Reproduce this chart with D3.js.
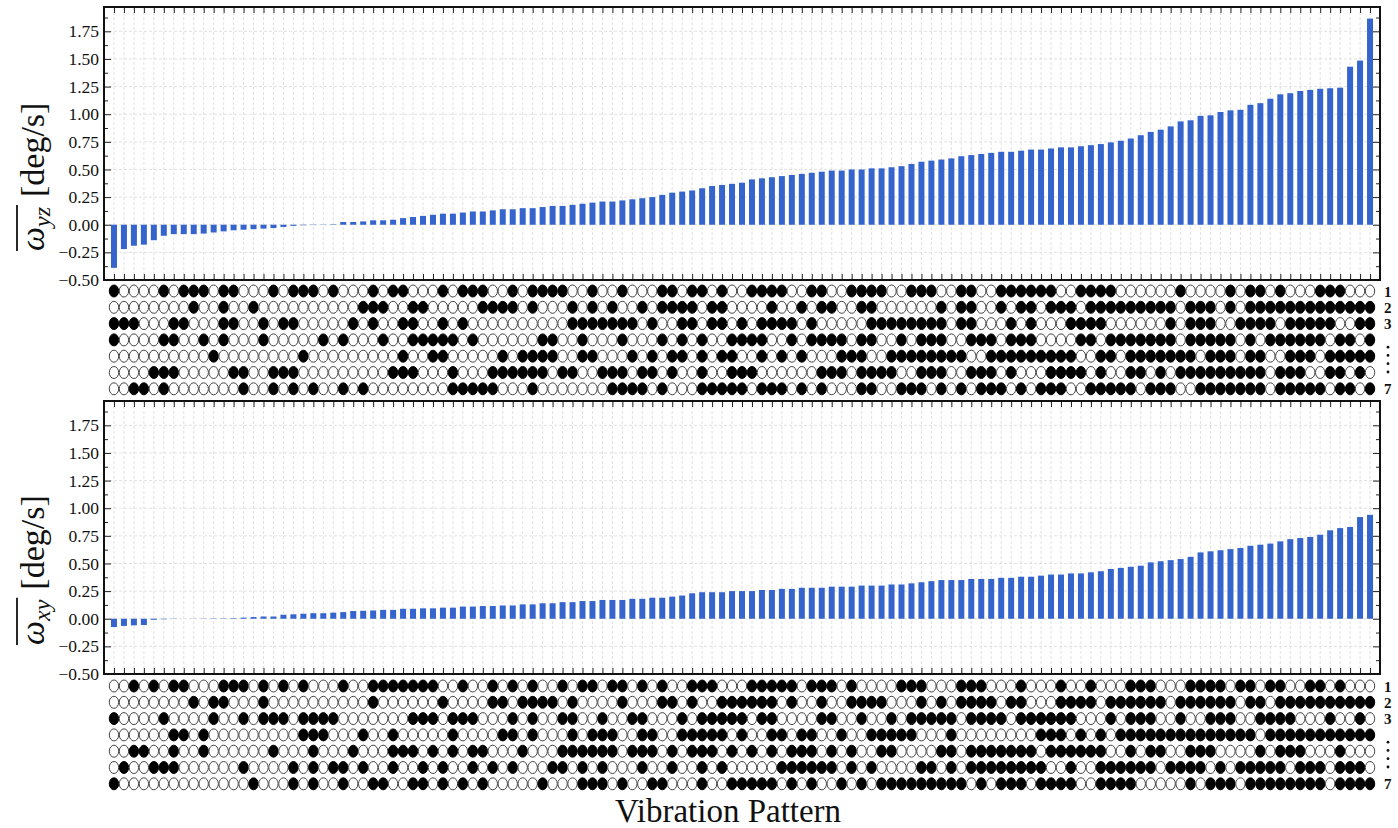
<!DOCTYPE html>
<html>
<head>
<meta charset="utf-8">
<script src="https://cdnjs.cloudflare.com/ajax/libs/d3/7.8.5/d3.min.js"></script>
<style>
body { margin: 0; background: #fff; }
svg text { font-family: "Liberation Serif", "DejaVu Serif", serif; fill: #111; }
</style>
</head>
<body>
<svg id="chart" width="1398" height="828"></svg>
<script>
// mean angular velocity for each vibration pattern (sorted), deg/s
var yzValues = [-0.39, -0.22, -0.19, -0.18, -0.14, -0.10, -0.085, -0.085, -0.085, -0.08,
    -0.07, -0.06, -0.05, -0.045, -0.04, -0.035, -0.03, -0.02, -0.01, -0.005,
    -0.003, 0.002, 0.004, 0.025, 0.025, 0.03, 0.04, 0.04, 0.045, 0.06,
    0.07, 0.08, 0.09, 0.10, 0.10, 0.11, 0.12, 0.12, 0.13, 0.14,
    0.14, 0.15, 0.15, 0.16, 0.17, 0.17, 0.18, 0.19, 0.20, 0.21,
    0.21, 0.22, 0.23, 0.24, 0.25, 0.27, 0.29, 0.30, 0.31, 0.33,
    0.35, 0.36, 0.37, 0.38, 0.41, 0.42, 0.43, 0.44, 0.45, 0.46,
    0.47, 0.48, 0.49, 0.49, 0.50, 0.50, 0.51, 0.51, 0.52, 0.53,
    0.55, 0.57, 0.58, 0.59, 0.60, 0.62, 0.63, 0.64, 0.65, 0.66,
    0.66, 0.67, 0.68, 0.68, 0.69, 0.70, 0.70, 0.71, 0.72, 0.73,
    0.745, 0.76, 0.78, 0.81, 0.84, 0.86, 0.89, 0.935, 0.945, 0.985,
    0.99, 1.02, 1.035, 1.04, 1.085, 1.10, 1.14, 1.18, 1.19, 1.21,
    1.22, 1.23, 1.235, 1.24, 1.43, 1.485, 1.865];

var xyValues = [-0.075, -0.065, -0.06, -0.057, -0.01, -0.005, -0.002, 0.0, 0.001, 0.002,
    0.003, 0.003, 0.005, 0.01, 0.015, 0.02, 0.02, 0.036, 0.04, 0.045,
    0.05, 0.05, 0.055, 0.06, 0.07, 0.072, 0.075, 0.08, 0.08, 0.09,
    0.09, 0.094, 0.094, 0.10, 0.10, 0.11, 0.11, 0.115, 0.115, 0.12,
    0.12, 0.13, 0.13, 0.14, 0.14, 0.15, 0.15, 0.16, 0.16, 0.17,
    0.17, 0.17, 0.18, 0.18, 0.19, 0.19, 0.20, 0.21, 0.23, 0.24,
    0.24, 0.24, 0.25, 0.25, 0.25, 0.26, 0.26, 0.27, 0.27, 0.28,
    0.28, 0.28, 0.29, 0.29, 0.29, 0.30, 0.30, 0.30, 0.31, 0.31,
    0.32, 0.33, 0.34, 0.35, 0.35, 0.35, 0.36, 0.36, 0.36, 0.37,
    0.37, 0.38, 0.38, 0.39, 0.40, 0.40, 0.41, 0.41, 0.42, 0.43,
    0.45, 0.46, 0.47, 0.48, 0.51, 0.52, 0.53, 0.54, 0.56, 0.60,
    0.61, 0.62, 0.63, 0.64, 0.66, 0.67, 0.68, 0.70, 0.72, 0.73,
    0.74, 0.76, 0.80, 0.82, 0.83, 0.92, 0.94];

var yTicks = [-0.5, -0.25, 0, 0.25, 0.5, 0.75, 1.0, 1.25, 1.5, 1.75];
var rowLabels = ["1", "2", "3", "", "", "", "7"];

// which motors are on in each pattern column, one entry per motor row ("a-b" = range)
var yzDots = [
    "0,5,7-9,11,12,16,18-20,22,26,28,29,33,35-37,40,42-45,48,51,55,56,58,59,61,64-67,70,71,74-77,80-82,85,86,89-94,97-100,107,112,114,115,117,121-123",
    "8,11,14,25-27,30,31,37-40,42,46,48,50,53,55-58,60,61,66,69,71,72,75,76,83,85,86,89,91,92,94-96,98-106,108-110,112,114-126",
    "0-2,6,7,11,12,15,17,18,24,26,29,30,33,35,46-52,54,57,58,60,61,63,65-68,70,76-83,85,86,90,92,96-99,106,108-110,113-116,118-122,125,126",
    "0,5,6,9,11,15,21,23,27,30-34,36,43,44,47,51,55,57,59,62-65,68,70-73,75,76,79,81-83,86-88,90-92,97,98,100-106,108-112,114,116-121,123,124,126",
    "10,19,29,32,33,39,41-44,47,48,52,54,56,57,59,61,62,65,67,69,73-75,78-85,88-96,99,100,102-108,110-112,114,115,118-120,122-126",
    "4-6,12,13,16-18,28-30,34,38-43,45,46,49-51,53,54,56,59,62-64,71-73,75-78,81-83,86-88,90,94-97,99,102,103,105,107-115,117-119,122,123,125",
    "2,3,5,13,16,18,20,23,25,34-38,42,50-53,55,59-63,65-67,69,71,75,76,79-81,83,85,87-89,91,93-95,98-102,104-106,109-115,117-121,123,124,126"
];

var xyDots = [
    "2,4,6,7,11-13,15,17,19,23,26-32,35,38,40,42,45,47,48,50,51,53,55,58-60,64-68,70-72,74,79-81,85-87,91,95,98,102-104,108-111,113,114,116,117,120,121,123",
    "8,10,11,15,26,33,38,39,41-44,46,51,55,56,58,61-66,68,71,74-77,81,83,85-88,90,91,95-98,100-105,107-112,114,115,117-126",
    "0,5,10,13,15-17,19-22,30-32,34-36,40,42,45,46,49,52,53,57,59-63,65,66,71,72,75,78,80-84,86-89,91-96,100,102-104,107,110-112,115-118,122,125",
    "6,7,9,19-21,25,28,34,39,40,42,46,48-50,53,54,57-61,63,66,67,69,70,73,76-80,84,93-95,97,99,101-114,116-126",
    "2,3,6,9,16,20,24,28-30,32,34,36,37,41,45-50,52-54,56,58-60,62,64,66,68-70,72,74,77,78,83,84,86-92,94-99,102,104,105,108-110,115,117-119,123",
    "1,4-6,13,18,20,22,23,25,28,31,33,36,38,40,44,45,47,49,53,56,59,61,67-72,74,76,81,82,84,86-93,96,99-104,106-109,111,113-117,119-121,123-125",
    "0,14,18,20,23,26,27,30,31,33,35,37,43,47-49,51,54,55,59,62-66,68,70,73,75,77-85,87,89-91,93-96,99-102,108,110-112,114-121,123-126"
];

function parseRow(s) {
    var on = new Set();
    s.split(",").forEach(function (p) {
        var ab = p.split("-").map(Number);
        for (var i = ab[0]; i <= (ab.length > 1 ? ab[1] : ab[0]); i++) on.add(i);
    });
    return on;
}

PatternChart = function (_svg, _values, _dots, _top, _dotTop, _sub) {
    this.svg = _svg;
    this.values = _values;
    this.dots = _dots.map(parseRow);
    this.top = _top;
    this.bottom = _top + 273;
    this.dotTop = _dotTop;
    this.sub = _sub;
    this.left = 104;
    this.right = 1380;
    this.initVis();
}

PatternChart.prototype.initVis = function () {
    var vis = this;
    vis.n = vis.values.length;
    vis.xScale = d3.scaleLinear().domain([-1, vis.n]).range([vis.left, vis.right]);
    vis.yScale = d3.scaleLinear().domain([-0.5, 1.97]).range([vis.bottom, vis.top]);
    vis.g = vis.svg.append("g");
    vis.updateVis();
}

PatternChart.prototype.updateVis = function () {
    var vis = this;
    var g = vis.g;
    var idx = d3.range(vis.n);
    var minors = d3.range(-0.375, 1.97, 0.25);

    // grid
    g.selectAll(".hgrid").data(yTicks).enter().append("line")
        .attr("x1", vis.left).attr("x2", vis.right)
        .attr("y1", function (d) { return vis.yScale(d); })
        .attr("y2", function (d) { return vis.yScale(d); })
        .attr("stroke", "#d9d9d9").attr("stroke-width", 0.8).attr("stroke-dasharray", "3,2");
    g.selectAll(".vgrid").data(idx).enter().append("line")
        .attr("y1", vis.top).attr("y2", vis.bottom)
        .attr("x1", function (d) { return vis.xScale(d); })
        .attr("x2", function (d) { return vis.xScale(d); })
        .attr("stroke", "#d9d9d9").attr("stroke-width", 0.8).attr("stroke-dasharray", "3,2");

    // bars
    g.selectAll(".bar").data(vis.values).enter().append("rect")
        .attr("x", function (d, i) { return vis.xScale(i) - 3; })
        .attr("width", 6)
        .attr("y", function (d) { return vis.yScale(Math.max(d, 0)); })
        .attr("height", function (d) { return Math.abs(vis.yScale(d) - vis.yScale(0)); })
        .attr("fill", "#3565cc");

    // axes, ticks pointing inwards
    var leftAxis = d3.axisLeft(vis.yScale).tickValues(yTicks).tickSize(-7).tickPadding(5)
        .tickFormat(d3.format(".2f"));
    var l = g.append("g").attr("transform", "translate(" + vis.left + ",0)").call(leftAxis);
    l.selectAll("text").attr("font-size", 17.5).attr("font-family", "Liberation Serif").attr("fill", "#111");
    g.append("g").attr("transform", "translate(" + vis.left + ",0)")
        .call(d3.axisLeft(vis.yScale).tickValues(minors).tickSize(-4).tickFormat(""));
    g.append("g").attr("transform", "translate(" + vis.right + ",0)")
        .call(d3.axisRight(vis.yScale).tickValues(yTicks).tickSize(-7).tickFormat(""));
    g.append("g").attr("transform", "translate(" + vis.right + ",0)")
        .call(d3.axisRight(vis.yScale).tickValues(minors).tickSize(-4).tickFormat(""));
    g.append("g").attr("transform", "translate(0," + vis.top + ")")
        .call(d3.axisTop(vis.xScale).tickValues(idx).tickSize(-6).tickFormat(""));
    g.append("g").attr("transform", "translate(0," + vis.bottom + ")")
        .call(d3.axisBottom(vis.xScale).tickValues(idx).tickSize(-6).tickFormat(""));
    g.selectAll(".domain").remove();
    g.selectAll(".tick line").attr("stroke", "#222").attr("stroke-width", 1);

    g.append("rect")
        .attr("x", vis.left).attr("y", vis.top)
        .attr("width", vis.right - vis.left).attr("height", vis.bottom - vis.top)
        .attr("fill", "none").attr("stroke", "#111").attr("stroke-width", 2);

    // dot matrix of motor patterns
    var rowStep = 16.3;
    vis.dots.forEach(function (on, r) {
        var cy = vis.dotTop + r * rowStep;
        g.selectAll(".dot" + r).data(idx).enter().append("ellipse")
            .attr("cx", function (d) { return vis.xScale(d); })
            .attr("cy", cy)
            .attr("rx", 4.7).attr("ry", 6)
            .attr("fill", function (d) { return on.has(d) ? "#000" : "#fff"; })
            .attr("stroke", function (d) { return on.has(d) ? "#000" : "#444"; })
            .attr("stroke-width", 1);
        if (rowLabels[r]) {
            g.append("text").attr("x", 1384).attr("y", cy + 5.5)
                .attr("font-size", 15).attr("font-weight", "bold").text(rowLabels[r]);
        }
    });
    var r3 = vis.dotTop + 2 * rowStep, r7 = vis.dotTop + 6 * rowStep;
    [0.3, 0.45, 0.6, 0.75].forEach(function (f) {
        g.append("circle").attr("cx", 1388).attr("cy", r3 + 7 + (r7 - r3 - 10) * f).attr("r", 1.4).attr("fill", "#111");
    });

    // y label with overline
    var lab = g.append("g").attr("transform", "translate(44," + (vis.top + 244) + ") rotate(-90)");
    var sym = lab.append("text").attr("font-size", 34);
    sym.append("tspan").attr("font-style", "italic").text("ω");
    sym.append("tspan").attr("font-style", "italic").attr("font-size", 24).attr("dy", 6).text(vis.sub);
    var w = sym.node().getComputedTextLength();
    lab.append("line").attr("x1", 0).attr("x2", w + 2).attr("y1", -27).attr("y2", -27)
        .attr("stroke", "#111").attr("stroke-width", 1.8);
    lab.append("text").attr("x", w + 10).attr("font-size", 34).text("[deg/s]");
}

var svg = d3.select("#chart");
var yzChart = new PatternChart(svg, yzValues, yzDots, 7, 291, "yz");
var xyChart = new PatternChart(svg, xyValues, xyDots, 401, 686, "xy");

svg.append("text").attr("x", 728).attr("y", 822).attr("text-anchor", "middle")
    .attr("font-size", 33).text("Vibration Pattern");
</script>
</body>
</html>
